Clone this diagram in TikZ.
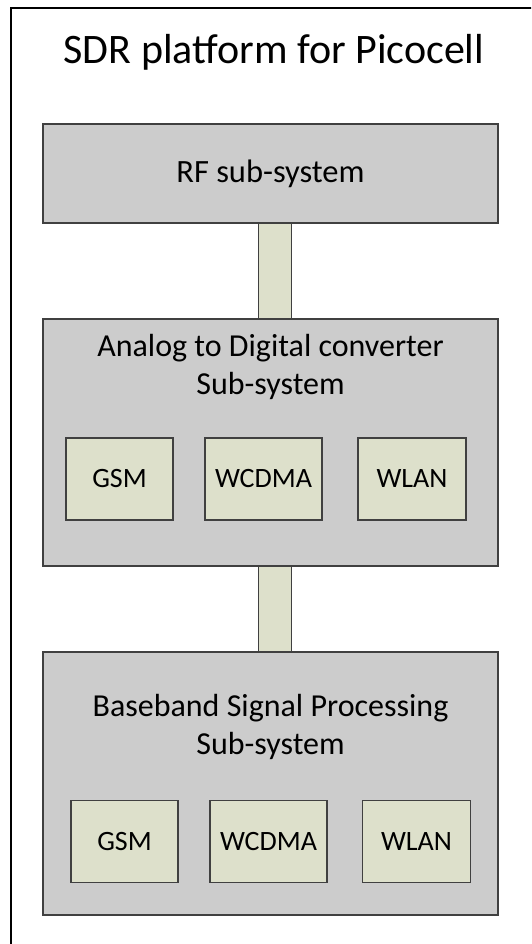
\documentclass[tikz,border=0pt]{standalone}
\usepackage{fontspec}
\setmainfont{Carlito}

\definecolor{boxgrey}{RGB}{204,204,204}
\definecolor{boxgreen}{RGB}{221,224,203}
\definecolor{edgegrey}{RGB}{64,64,64}

\tikzset{
  subsys/.style={draw=edgegrey, fill=boxgrey, line width=1.3pt, minimum width=455pt, inner sep=0pt},
  stdbox/.style={draw=edgegrey, fill=boxgreen, line width=1.3pt, minimum height=82pt, inner sep=0pt,
    font=\fontsize{28}{33}\selectfont},
  link/.style={draw=edgegrey, line width=1.3pt, double=boxgreen, double distance=32pt,
    shorten <=0.7pt, shorten >=0.7pt}
}

\begin{document}
\begin{tikzpicture}[x=1pt, y=-1pt]

		%Page size and outer frame
		\useasboundingbox (0,0) rectangle (531,944);
		\clip (0,0) rectangle (531,944);
		\draw[line width=2pt] (11,8) rectangle (560,980);
		
		%Title
		\node[font=\fontsize{42}{50}\selectfont] (title) at (274,52) {SDR platform for Picocell};
		
		%RF sub-system
		\node[subsys, minimum height=99pt, font=\fontsize{32.5}{39}\selectfont] (rf) at (270.5,173.5) {RF sub-system};
		
		%Analog to Digital converter sub-system
		\node[subsys, minimum height=247pt] (adc) at (270.5,442.5) {};
		\node[align=center, font=\fontsize{32}{38}\selectfont] (adctext) at (270.5,367) {Analog to Digital converter\\Sub-system};
		\node[stdbox, minimum width=107pt] (adcgsm) at (119.5,479) {GSM};
		\node[stdbox, minimum width=117pt] (adcwcdma) at (263.5,479) {WCDMA};
		\node[stdbox, minimum width=108pt] (adcwlan) at (412,479) {WLAN};
		
		%Baseband signal processing sub-system
		\node[subsys, minimum height=263pt] (bb) at (270.5,783.5) {};
		\node[align=center, font=\fontsize{32}{38}\selectfont] (bbtext) at (270.5,727) {Baseband Signal Processing\\Sub-system};
		\node[stdbox, minimum width=107pt] (bbgsm) at (124.5,841.5) {GSM};
		\node[stdbox, minimum width=117pt] (bbwcdma) at (268.5,841.5) {WCDMA};
		\node[stdbox, minimum width=108pt] (bbwlan) at (416.5,841.5) {WLAN};
		
		%Links between sub-systems
		\draw[link] ([xshift=4.5pt]rf.south) -- ([xshift=4.5pt]adc.north);
		\draw[link] ([xshift=4.5pt]adc.south) -- ([xshift=4.5pt]bb.north);
	\end{tikzpicture}
\end{document}
